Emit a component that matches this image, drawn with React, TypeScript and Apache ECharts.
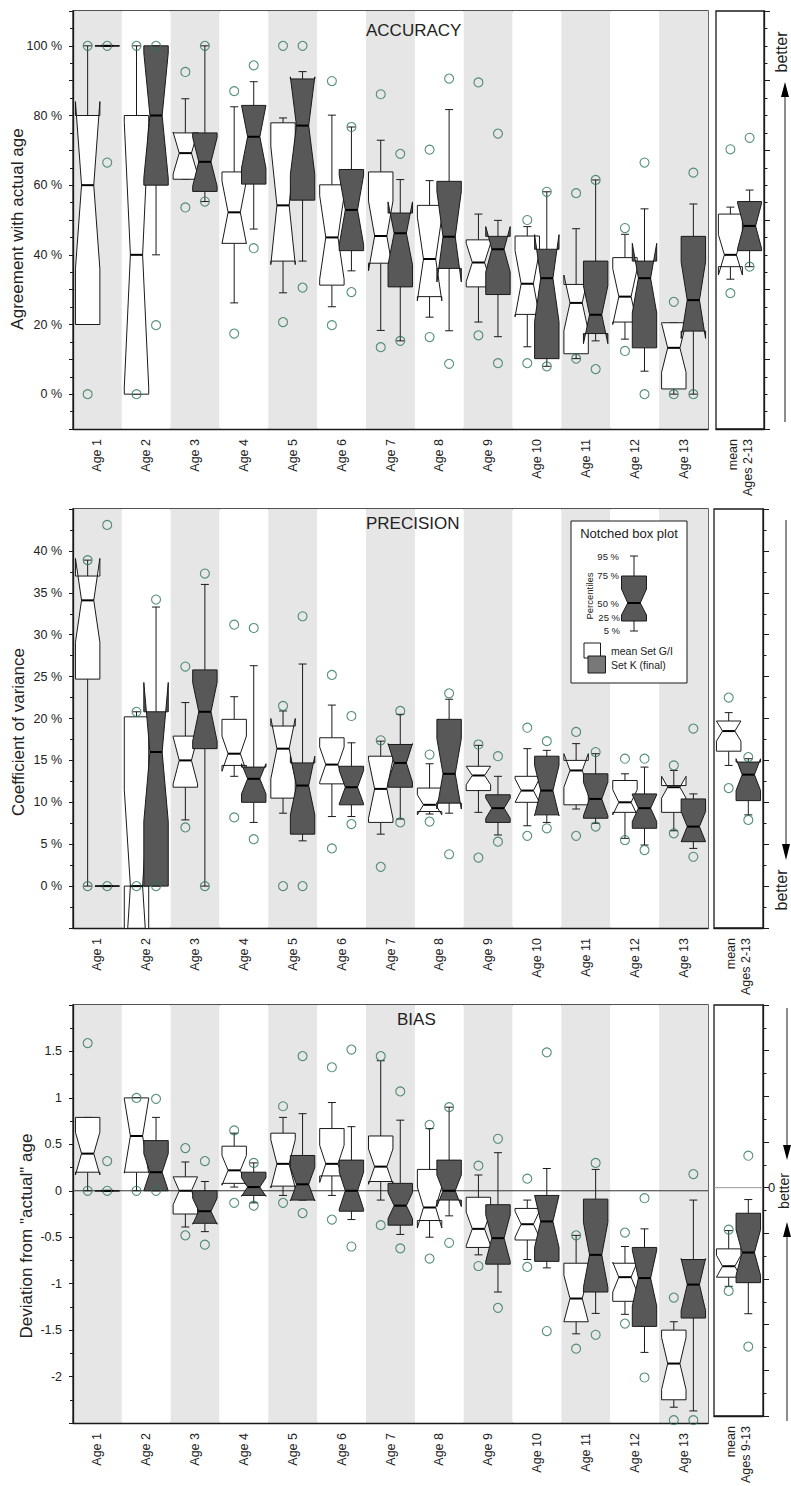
import React, { useEffect, useRef } from 'react';
import * as echarts from 'echarts';

// ---------- categories ----------
const ages = ['Age 1', 'Age 2', 'Age 3', 'Age 4', 'Age 5', 'Age 6', 'Age 7', 'Age 8', 'Age 9', 'Age 10', 'Age 11', 'Age 12', 'Age 13'];
const meanLabel213 = 'mean\nAges 2-13';
const meanLabel913 = 'mean\nAges 9-13';

// ---------- box statistics: [p5, q1, median, q3, p95, notch half-width] ----------
const accuracySetGI = [
  [20, 20, 60, 80, 100, 24],
  [0, 0, 40, 80, 100, 38],
  [61.7, 61.7, 69.2, 75, 84.8, 6],
  [26.2, 43.3, 52.2, 63.8, 82.5, 9],
  [29.1, 38.2, 54.2, 77.9, 79.3, 17],
  [25.1, 31.3, 45, 60.1, 80.1, 12],
  [18.3, 37.6, 45.4, 63.8, 72.9, 10],
  [22.1, 28, 38.8, 54.2, 61.3, 12],
  [20.7, 30.8, 37.8, 44.3, 51.7, 5.5],
  [13.6, 22.9, 31.7, 45.4, 48.1, 9.5],
  [10.2, 11.6, 26.2, 31.5, 47.5, 8],
  [15.8, 20.7, 28, 39.2, 45.9, 8],
  [0, 1.5, 13.3, 20.5, 20.5, 7],
];
const accuracySetK = [
  [100, 100, 100, 100, 100, 0],
  [40, 60, 80, 100, 100, 18],
  [55.3, 58.2, 66.7, 75, 100, 7],
  [47.4, 60.3, 73.9, 82.9, 89.7, 9],
  [38.2, 55.7, 77.1, 90.5, 92.6, 14],
  [35.4, 41.2, 52.9, 64.5, 76.7, 10],
  [15.3, 30.8, 46.2, 52, 61.6, 9],
  [18.2, 36.1, 45.2, 61.1, 81.7, 13],
  [16.5, 28.6, 41.6, 45.3, 49.9, 6.5],
  [8, 10.2, 33.3, 41.6, 58.1, 12.5],
  [15.3, 17.4, 22.8, 38.2, 61.5, 8.3],
  [6.6, 13.3, 33.3, 38.2, 53.2, 10],
  [0, 18.1, 27, 45.3, 54.6, 11],
];
const accuracyMeanGI = [33, 36.6, 40, 51.7, 53.7, 5.8];
const accuracyMeanK = [36.6, 41.2, 48.3, 55.3, 58.6, 6.5];
// extreme values [upper, lower]
const accuracyOutGI = [[100, 0], [100, 0], [92.5, 53.6], [87, 17.4], [100, 20.7], [89.9, 19.8], [86.1, 13.5], [70.2, 16.4], [89.5, 16.9], [50, 8.9], [57.7, 10.2], [47.7, 12.4], [26.5, 0]];
const accuracyOutK = [[100, 66.5], [100, 19.8], [100, 55.3], [94.4, 41.9], [100, 30.6], [76.7, 29.3], [69, 15.3], [90.6, 8.7], [74.8, 8.9], [58.1, 8], [61.5, 7.2], [66.5, 0], [63.6, 0]];
const accuracyMeanOutGI = [70.3, 29];
const accuracyMeanOutK = [73.6, 36.6];

const precisionSetGI = [
  [0, 24.7, 34.1, 37, 38.9, 5],
  [0, 0, 0, 20.2, 20.8, 11.5],
  [7.9, 11.8, 15, 17.9, 21.9, 2.8],
  [13.1, 14.4, 15.8, 19.9, 22.6, 2.1],
  [8.7, 10.5, 16.4, 19.1, 20.9, 3.6],
  [8.3, 12.2, 14.5, 17.7, 21.6, 2.1],
  [6.2, 7.6, 11.6, 15.5, 17.3, 3.5],
  [8.6, 8.9, 9.7, 11.7, 14.6, 1.2],
  [8.8, 11.4, 13.2, 14.3, 16.8, 1.1],
  [7.2, 10, 11.4, 13.1, 16.4, 1.4],
  [9.2, 9.7, 13.8, 15, 17, 2],
  [5.7, 8.8, 10, 12.6, 13.4, 1.5],
  [6.6, 8.8, 11.8, 12, 13.8, 1.3],
];
const precisionSetK = [
  [0, 0, 0, 0, 0, 0],
  [0, 0, 16, 20.8, 33.3, 8.3],
  [0, 16.4, 20.8, 25.8, 36, 3.5],
  [7.6, 10, 12.8, 14.2, 26.3, 1.8],
  [5.4, 6.2, 12, 14.7, 26.5, 3.5],
  [8.3, 9.7, 11.8, 14.3, 17.1, 2],
  [8, 11.8, 14.7, 16.9, 20.5, 2.3],
  [8.7, 9.9, 13.4, 19.9, 22.3, 4.2],
  [6.1, 7.6, 9.3, 10.9, 13.1, 1.2],
  [7.6, 8.5, 11.4, 15.5, 16.2, 3],
  [7.5, 8.1, 10.4, 13.4, 15.8, 2],
  [4.9, 6.9, 9.3, 11, 14.2, 1.6],
  [4.5, 5.3, 7.1, 10.4, 11, 1.8],
];
const precisionMeanGI = [14.4, 16.1, 18.5, 19.7, 20.7, 1.2];
const precisionMeanK = [8.5, 10.2, 13.3, 14.8, 15.2, 1.9];
const precisionOutGI = [[38.9, 0], [20.8, 0], [26.2, 7], [31.2, 8.2], [21.5, 0], [25.2, 4.5], [17.4, 2.3], [15.7, 7.7], [16.9, 3.4], [18.9, 6], [18.4, 6], [15.2, 5.5], [14.4, 6.3]];
const precisionOutK = [[43.1, 0], [34.2, 0], [37.3, 0], [30.8, 5.6], [32.2, 0], [20.3, 7.4], [20.9, 7.6], [23, 3.8], [15.5, 5.3], [17.3, 6.9], [16, 7.1], [15.2, 4.3], [18.8, 3.5]];
const precisionMeanOutGI = [22.5, 11.7];
const precisionMeanOutK = [15.4, 7.9];

const biasSetGI = [
  [0, 0.2, 0.4, 0.79, 0.79, 0.23],
  [0, 0.2, 0.59, 1, 1, 0.4],
  [-0.39, -0.25, 0, 0.15, 0.31, 0.15],
  [0.04, 0.08, 0.22, 0.48, 0.62, 0.16],
  [-0.05, 0.05, 0.29, 0.62, 0.79, 0.26],
  [-0.05, 0.16, 0.29, 0.67, 0.95, 0.2],
  [-0.1, 0.1, 0.26, 0.59, 1.4, 0.19],
  [-0.5, -0.32, -0.18, 0.23, 0.67, 0.22],
  [-0.69, -0.61, -0.41, -0.07, 0.17, 0.18],
  [-0.74, -0.53, -0.36, -0.19, -0.1, 0.14],
  [-1.54, -1.41, -1.16, -0.78, -0.48, 0.25],
  [-1.33, -1.19, -0.93, -0.78, -0.6, 0.16],
  [-2.33, -2.25, -1.86, -1.5, -1.41, 0.28],
];
const biasSetK = [
  [0, 0, 0, 0, 0, 0],
  [0, 0, 0.2, 0.54, 0.79, 0.2],
  [-0.44, -0.35, -0.22, 0, 0.1, 0.14],
  [-0.13, -0.05, 0.04, 0.2, 0.3, 0.1],
  [-0.1, -0.1, 0.07, 0.38, 0.83, 0.18],
  [-0.31, -0.22, 0, 0.33, 0.69, 0.2],
  [-0.47, -0.37, -0.16, 0.08, 0.76, 0.14],
  [-0.27, -0.1, 0, 0.33, 0.9, 0.17],
  [-1.09, -0.79, -0.51, -0.15, 0.41, 0.25],
  [-0.83, -0.76, -0.33, -0.05, 0.24, 0.28],
  [-1.32, -1.09, -0.69, -0.09, 0.23, 0.35],
  [-1.74, -1.46, -0.94, -0.61, -0.41, 0.3],
  [-2.37, -1.37, -1.01, -0.74, -0.1, 0.28],
];
const biasMeanGI = [-1.08, -0.98, -0.86, -0.67, -0.47, 0.12];
const biasMeanK = [-1.38, -1.04, -0.71, -0.28, -0.13, 0.25];
const biasOutGI = [[1.59, 0], [1, 0], [0.46, -0.48], [0.65, -0.13], [0.91, -0.13], [1.33, -0.31], [1.45, -0.37], [0.71, -0.73], [0.27, -0.81], [0.13, -0.82], [-0.48, -1.7], [-0.45, -1.43], [-1.15, -2.47]];
const biasOutK = [[0.32, 0], [0.99, 0], [0.32, -0.58], [0.3, -0.16], [1.45, -0.24], [1.52, -0.6], [1.07, -0.62], [0.9, -0.56], [0.56, -1.26], [1.49, -1.51], [0.3, -1.55], [-0.08, -2.01], [0.18, -2.47]];
const biasMeanOutGI = [-0.46, -1.13];
const biasMeanOutK = [0.35, -1.74];

// ---------- style ----------
const INK = '#1a1a1a';
const DARK = '#585858';
const BAND = '#e6e6e6';
const GREEN = '#2a7455';
const FONT = '"Liberation Sans", Arial, Helvetica, sans-serif';
const SHIFT = 0.2; // fraction of band width between each box centre and the band centre

const makeBoxRender = (shift: number, fill: string) => (params: any, api: any) => {
  const c = api.value(0);
  const p5 = api.value(1), q1 = api.value(2), med = api.value(3), q3 = api.value(4), p95 = api.value(5), n = api.value(6);
  const bw = api.size([1, 0])[0];
  const cx = api.coord([c, med])[0] + shift * bw;
  const hw = bw * 0.25;
  const Y = (v: number) => api.coord([c, v])[1];
  const cap = 4;
  const ls = { stroke: INK, lineWidth: 1 };
  const children: any[] = [
    { type: 'line', shape: { x1: cx, y1: Y(q3), x2: cx, y2: Y(p95) }, style: ls },
    { type: 'line', shape: { x1: cx - cap, y1: Y(p95), x2: cx + cap, y2: Y(p95) }, style: ls },
    { type: 'line', shape: { x1: cx, y1: Y(q1), x2: cx, y2: Y(p5) }, style: ls },
    { type: 'line', shape: { x1: cx - cap, y1: Y(p5), x2: cx + cap, y2: Y(p5) }, style: ls },
    {
      type: 'polygon',
      shape: {
        points: [
          [cx - hw, Y(q1)], [cx + hw, Y(q1)], [cx + hw, Y(med - n)], [cx + hw * 0.5, Y(med)], [cx + hw, Y(med + n)],
          [cx + hw, Y(q3)], [cx - hw, Y(q3)], [cx - hw, Y(med + n)], [cx - hw * 0.5, Y(med)], [cx - hw, Y(med - n)],
        ],
      },
      style: { fill, stroke: INK, lineWidth: 1, lineJoin: 'miter' },
    },
    { type: 'line', shape: { x1: cx - hw * 0.5, y1: Y(med), x2: cx + hw * 0.5, y2: Y(med) }, style: { stroke: '#000', lineWidth: 2 } },
  ];
  return { type: 'group', children };
};

const zeroLineRender = (color: string) => (params: any, api: any) => {
  const cs = params.coordSys;
  const y = api.coord([0, 0])[1];
  return { type: 'line', shape: { x1: cs.x, y1: y, x2: cs.x + cs.width, y2: y }, style: { stroke: color, lineWidth: 1 } };
};

const toRows = (rows: number[][]) => rows.map((r, k) => [k, ...r]);
const toPoints = (pairs: number[][]) => pairs.flatMap((p, k) => p.map((v) => [k, v]));

const panels = [
  {
    top: 11, height: 418, sideLeft: 716, sideWidth: 48,
    min: -10, max: 110, interval: 10, minorSplit: 2,
    sideInterval: 20, sideMinorSplit: 4,
    fmt: (v: number) => (v >= 0 && v <= 100 && v % 20 === 0 ? `${v} %` : ''),
    sideFmt: (v: number) => '',
    meanLabel: meanLabel213,
    gi: accuracySetGI, k: accuracySetK, mgi: accuracyMeanGI, mk: accuracyMeanK,
    ogi: accuracyOutGI, ok: accuracyOutK, mogi: accuracyMeanOutGI, mok: accuracyMeanOutK,
    zero: false,
  },
  {
    top: 509, height: 419, sideLeft: 714, sideWidth: 49,
    min: -5, max: 45, interval: 5, minorSplit: 2,
    sideInterval: 5, sideMinorSplit: 2,
    fmt: (v: number) => (v >= 0 && v <= 40 ? `${v} %` : ''),
    sideFmt: (v: number) => '',
    meanLabel: meanLabel213,
    gi: precisionSetGI, k: precisionSetK, mgi: precisionMeanGI, mk: precisionMeanK,
    ogi: precisionOutGI, ok: precisionOutK, mogi: precisionMeanOutGI, mok: precisionMeanOutK,
    zero: false,
  },
  {
    top: 1005, height: 418, sideLeft: 714, sideWidth: 49,
    min: -2.5, max: 2, interval: 0.5, minorSplit: 2,
    sideInterval: 0.5, sideMinorSplit: 2,
    fmt: (v: number) => (v > -2.4 && v < 1.9 ? String(v) : ''),
    sideFmt: (v: number) => (Math.abs(v) < 1e-9 ? '0' : ''),
    meanLabel: meanLabel913,
    gi: biasSetGI, k: biasSetK, mgi: biasMeanGI, mk: biasMeanK,
    ogi: biasOutGI, ok: biasOutK, mogi: biasMeanOutGI, mok: biasMeanOutK,
    zero: true,
  },
];

function buildOption() {
  const grid: any[] = [];
  const xAxis: any[] = [];
  const yAxis: any[] = [];
  const series: any[] = [];

  panels.forEach((p, i) => {
    const gMain = i * 2;
    const gSide = i * 2 + 1;
    grid.push({ left: 73, top: p.top, width: 635, height: p.height, show: true, borderColor: INK, borderWidth: 1.3, backgroundColor: '#fff' });
    grid.push({ left: p.sideLeft, top: p.top, width: p.sideWidth, height: p.height, show: true, borderColor: INK, borderWidth: 1.3, backgroundColor: '#fff' });

    const xLabel = { interval: 0, rotate: 90, margin: 10, fontSize: 12.5, color: '#222', fontFamily: FONT, lineHeight: 15 };
    xAxis.push({
      type: 'category', gridIndex: gMain, data: ages, boundaryGap: true,
      axisLine: { show: true, onZero: false, lineStyle: { color: INK, width: 1.3 } }, axisTick: { show: false },
      axisLabel: xLabel,
      splitArea: { show: true, areaStyle: { color: [BAND, '#ffffff'] } },
      splitLine: { show: false },
    });
    xAxis.push({
      type: 'category', gridIndex: gSide, data: [p.meanLabel], boundaryGap: true,
      axisLine: { show: true, onZero: false, lineStyle: { color: INK, width: 1.3 } }, axisTick: { show: false },
      axisLabel: xLabel, splitArea: { show: false }, splitLine: { show: false },
    });
    yAxis.push({
      type: 'value', gridIndex: gMain, min: p.min, max: p.max, interval: p.interval,
      axisLine: { show: true, onZero: false, lineStyle: { color: INK, width: 1.3 } },
      axisTick: { show: true, length: 4, lineStyle: { color: INK } },
      minorTick: { show: true, splitNumber: p.minorSplit, length: 3, lineStyle: { color: INK } },
      splitLine: { show: false },
      axisLabel: { formatter: p.fmt, fontSize: 12.5, color: '#222', fontFamily: FONT, margin: 11, showMinLabel: true, showMaxLabel: true },
    });
    yAxis.push({
      type: 'value', gridIndex: gSide, position: 'right', min: p.min, max: p.max, interval: p.sideInterval,
      axisLine: { show: true, onZero: false, lineStyle: { color: INK, width: 1.3 } },
      axisTick: { show: true, length: 6, lineStyle: { color: INK } },
      minorTick: { show: true, splitNumber: p.sideMinorSplit, length: 3.5, lineStyle: { color: INK } },
      splitLine: { show: false },
      axisLabel: { formatter: p.sideFmt, fontSize: 13, color: '#222', fontFamily: FONT, margin: 5 },
    });

    if (p.zero) {
      series.push({ type: 'custom', xAxisIndex: gMain, yAxisIndex: gMain, data: [[0, 0]], renderItem: zeroLineRender('#333'), z: 1, silent: true });
      series.push({ type: 'custom', xAxisIndex: gSide, yAxisIndex: gSide, data: [[0, 0]], renderItem: zeroLineRender('#999'), z: 1, silent: true });
    }

    const boxSeries = (gIdx: number, rows: number[][], shift: number, fill: string, name: string) => ({
      type: 'custom', name, xAxisIndex: gIdx, yAxisIndex: gIdx, clip: true, z: 2, silent: true,
      data: toRows(rows), renderItem: makeBoxRender(shift, fill),
      encode: { x: 0, y: [1, 2, 3, 4, 5] },
    });
    series.push(boxSeries(gMain, p.gi, -SHIFT, '#ffffff', 'mean Set G/I'));
    series.push(boxSeries(gMain, p.k, SHIFT, DARK, 'Set K (final)'));
    series.push(boxSeries(gSide, [p.mgi], -SHIFT, '#ffffff', 'mean Set G/I'));
    series.push(boxSeries(gSide, [p.mk], SHIFT, DARK, 'Set K (final)'));

    const circleSeries = (gIdx: number, pts: number[][], offset: number) => ({
      type: 'scatter', xAxisIndex: gIdx, yAxisIndex: gIdx, z: 3, silent: true, clip: false,
      data: pts, symbol: 'circle', symbolSize: 9, symbolOffset: [offset, 0],
      itemStyle: { color: 'rgba(0,0,0,0)', borderColor: GREEN, borderWidth: 1.1 },
    });
    series.push(circleSeries(gMain, toPoints(p.ogi), -SHIFT * 48.85));
    series.push(circleSeries(gMain, toPoints(p.ok), SHIFT * 48.85));
    series.push(circleSeries(gSide, toPoints([p.mogi]), -SHIFT * p.sideWidth));
    series.push(circleSeries(gSide, toPoints([p.mok]), SHIFT * p.sideWidth));
  });

  const txt = (x: number, y: number, text: string, size: number, opts: any = {}) => ({
    type: 'text', x, y, rotation: opts.rotation || 0, z: 10,
    style: {
      text, fontSize: size, fontFamily: FONT, fill: opts.fill || '#222',
      align: opts.align || 'center', verticalAlign: 'middle',
      textAlign: opts.align || 'center', textVerticalAlign: 'middle',
    },
  });
  const line = (x1: number, y1: number, x2: number, y2: number, w = 1, color = INK) => ({
    type: 'line', z: 10, shape: { x1, y1, x2, y2 }, style: { stroke: color, lineWidth: w },
  });
  const tri = (pts: number[][]) => ({ type: 'polygon', z: 10, shape: { points: pts }, style: { fill: '#000' } });

  const graphic: any[] = [
    // axis titles
    txt(17, 229, 'Agreement with actual age', 17, { rotation: Math.PI / 2 }),
    txt(18, 732, 'Coefficient of variance', 17, { rotation: Math.PI / 2 }),
    txt(26, 1236, 'Deviation from "actual" age', 17, { rotation: Math.PI / 2 }),
    // panel titles
    txt(366, 30, 'ACCURACY', 17, { align: 'left' }),
    txt(366, 523, 'PRECISION', 17, { align: 'left' }),
    txt(397, 1019, 'BIAS', 17, { align: 'left' }),
    // "better" arrows
    line(785, 422, 785, 95),
    tri([[785, 82], [781, 97], [789, 97]]),
    txt(781, 52, 'better', 16, { rotation: Math.PI / 2 }),
    line(786, 520, 786, 846),
    tri([[786, 860], [782, 844], [790, 844]]),
    txt(781, 890, 'better', 16, { rotation: Math.PI / 2 }),
    line(787, 1008, 787, 1147),
    tri([[787, 1160], [783, 1145], [791, 1145]]),
    line(787, 1421, 787, 1235),
    tri([[787, 1222], [783, 1237], [791, 1237]]),
    txt(784, 1191, 'better', 14, { rotation: Math.PI / 2 }),
    // legend box
    { type: 'rect', z: 9, shape: { x: 571, y: 521, width: 116, height: 162 }, style: { fill: '#fff', stroke: INK, lineWidth: 1 } },
    txt(629, 533, 'Notched box plot', 13),
    line(634, 576, 634, 556),
    line(630, 556, 638, 556),
    line(634, 621, 634, 631),
    line(630, 631, 638, 631),
    {
      type: 'polygon', z: 10,
      shape: { points: [[621.5, 621], [646.5, 621], [646.5, 615], [640.25, 603], [646.5, 589], [646.5, 576], [621.5, 576], [621.5, 589], [627.75, 603], [621.5, 615]] },
      style: { fill: DARK, stroke: INK, lineWidth: 1 },
    },
    line(627.75, 603, 640.25, 603, 2, '#000'),
    txt(619, 556, '95 %', 9.5, { align: 'right' }),
    txt(619, 575, '75 %', 9.5, { align: 'right' }),
    txt(619, 603, '50 %', 9.5, { align: 'right' }),
    txt(620, 617, '25 %', 9.5, { align: 'right' }),
    txt(620, 630, '5 %', 9.5, { align: 'right' }),
    txt(589, 596, 'Percentiles', 9.5, { rotation: Math.PI / 2 }),
    { type: 'rect', z: 10, shape: { x: 584, y: 643, width: 16.5, height: 15 }, style: { fill: '#fff', stroke: INK, lineWidth: 1 } },
    { type: 'rect', z: 11, shape: { x: 588, y: 656, width: 17.5, height: 17 }, style: { fill: '#787878', stroke: INK, lineWidth: 1 } },
    txt(611, 651, 'mean Set G/I', 10.5, { align: 'left' }),
    txt(611, 665, 'Set K (final)', 10.5, { align: 'left' }),
  ];

  return {
    animation: false,
    backgroundColor: '#ffffff',
    textStyle: { fontFamily: FONT },
    grid, xAxis, yAxis, series, graphic,
  };
}

export default function App() {
  const ref = useRef<HTMLDivElement>(null);
  useEffect(() => {
    document.body.style.margin = '0';
    if (!ref.current) return;
    const chart = echarts.init(ref.current, undefined, { renderer: 'svg' });
    chart.setOption(buildOption() as any);
    return () => chart.dispose();
  }, []);
  return <div ref={ref} style={{ width: 791, height: 1486 }} />;
}
